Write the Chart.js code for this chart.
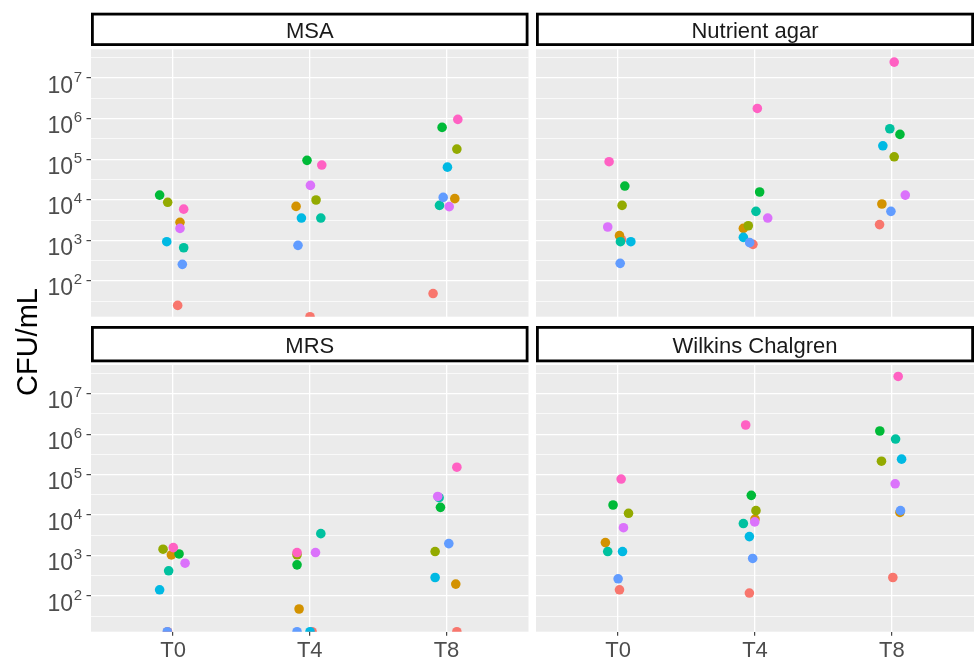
<!DOCTYPE html>
<html>
<head>
<meta charset="utf-8">
<script src="https://cdn.jsdelivr.net/npm/chart.js@4.4.0/dist/chart.umd.min.js"></script>
<style>
  html, body { margin: 0; padding: 0; background: #fff; }
  #wrap { position: relative; width: 976px; height: 657px; overflow: hidden; }
  #wrap canvas { position: absolute; }
  #ytitle {
    position: absolute; left: -72px; top: 325px; width: 200px; height: 34px;
    line-height: 34px; text-align: center; transform: rotate(-90deg);
    font: 29px "Liberation Sans", Arial, sans-serif; color: #000;
  }
</style>
</head>
<body>
<div id="wrap">
  <canvas id="p0"></canvas>
  <canvas id="p1"></canvas>
  <canvas id="p2"></canvas>
  <canvas id="p3"></canvas>
  <div id="ytitle">CFU/mL</div>
</div>
<script>
// --- data ---
const timepoints = ['T0', 'T4', 'T8'];
const media = ['MSA', 'Nutrient agar', 'MRS', 'Wilkins Chalgren'];
const samples = ['S1', 'S2', 'S3', 'S4', 'S5', 'S6', 'S7', 'S8', 'S9'];
const sampleColors = ['#F8766D', '#D39200', '#93AA00', '#00BA38', '#00C19F', '#00B9E3', '#619CFF', '#DB72FB', '#FF61C3'];

// CFU/mL: one row per time point, one value per sample (0 = nothing counted)
const msaCounts = [
  [25, 2800, 8700, 13100, 660, 930, 257, 1980, 5900],
  [0, 6900, 9900, 94000, 3560, 3560, 755, 22700, 72000],
  [49, 10700, 178000, 610000, 7300, 64000, 11500, 6800, 960000]
];
const nutrientCounts = [
  [1040, 1310, 7300, 21900, 930, 930, 272, 2140, 87000],
  [800, 1980, 2300, 15600, 5200, 1190, 880, 3560, 1790000],
  [2450, 7900, 115000, 410000, 565000, 215000, 5200, 13100, 24800000]
];
const mrsCounts = [
  [0, 1040, 1440, 1100, 421, 143, 0, 650, 1580],
  [0, 48, 1050, 592, 3490, 0, 0, 1190, 1190],
  [0, 198, 1260, 15600, 27000, 288, 1980, 29000, 153000]
];
const wilkinsCounts = [
  [143, 2100, 11100, 17800, 1260, 1260, 267, 4900, 78000],
  [119, 8000, 12900, 30800, 6200, 2950, 850, 6800, 1690000],
  [288, 11700, 215000, 1200000, 760000, 242000, 12900, 59600, 26700000]
];

// jitter around each time point (time point units), same layout as the counts
const msaJitter = [
  [0.034, 0.051, -0.039, -0.098, 0.078, -0.046, 0.068, 0.051, 0.078],
  [0.002, -0.100, 0.046, -0.020, 0.081, -0.061, -0.086, 0.005, 0.088],
  [-0.098, 0.061, 0.076, -0.032, -0.051, 0.007, -0.024, 0.020, 0.083]
];
const nutrientJitter = [
  [0.024, 0.010, 0.029, 0.049, 0.017, 0.093, 0.015, -0.076, -0.066],
  [-0.015, -0.085, -0.049, 0.034, 0.007, -0.085, -0.039, 0.093, 0.017],
  [-0.090, -0.073, 0.017, 0.059, -0.015, -0.066, -0.007, 0.098, 0.017]
];
const mrsJitter = [
  [-0.040, -0.012, -0.073, 0.044, -0.032, -0.098, -0.042, 0.088, 0.002],
  [0.017, -0.078, -0.093, -0.093, 0.081, 0.002, -0.093, 0.042, -0.093],
  [0.076, 0.068, -0.083, -0.044, -0.054, -0.083, 0.017, -0.064, 0.076]
];
const wilkinsJitter = [
  [0.010, -0.093, 0.076, -0.037, -0.076, 0.032, 0.000, 0.039, 0.022],
  [-0.041, 0.000, 0.007, -0.027, -0.085, -0.041, -0.017, -0.002, -0.068],
  [0.007, 0.059, -0.076, -0.088, 0.027, 0.071, 0.063, 0.024, 0.046]
];

// y axis: log10 range incl. ggplot expansion, breaks every half decade
const yMin = Math.pow(10, 1.12);
const yMax = Math.pow(10, 7.71);
const yBreakExp = [1.5, 2, 2.5, 3, 3.5, 4, 4.5, 5, 5.5, 6, 6.5, 7, 7.5];

const FONT = '"Liberation Sans", Arial, sans-serif';
const isMajor = v => Math.abs(Math.log10(v) - Math.round(Math.log10(v))) < 1e-6;

// --- panel layout (facet_wrap 2x2) ---
const panels = [
  { id: 'p0', title: media[0], counts: msaCounts, jitter: msaJitter, left: 0, top: 0, w: 530, h: 317, yAxis: true, xAxis: false, padTop: 49.3, stripTop: 12.7, stripH: 33.3, padRight: 1.5 },
  { id: 'p1', title: media[1], counts: nutrientCounts, jitter: nutrientJitter, left: 536, top: 0, w: 440, h: 317, yAxis: false, xAxis: false, padTop: 49.3, stripTop: 12.7, stripH: 33.3, padRight: 2 },
  { id: 'p2', title: media[2], counts: mrsCounts, jitter: mrsJitter, left: 0, top: 320, w: 530, h: 337, yAxis: true, xAxis: true, padTop: 45, stripTop: 6, stripH: 36.3, padRight: 1.5 },
  { id: 'p3', title: media[3], counts: wilkinsCounts, jitter: wilkinsJitter, left: 536, top: 320, w: 440, h: 337, yAxis: false, xAxis: true, padTop: 45, stripTop: 6, stripH: 36.3, padRight: 2 }
];

// grey panel + strip on top
const facetPlugin = {
  id: 'facet',
  beforeDraw(chart, args, opts) {
    const { ctx, chartArea: a } = chart;
    ctx.save();
    ctx.fillStyle = '#EBEBEB';
    ctx.fillRect(a.left, a.top, a.right - a.left, a.bottom - a.top);
    ctx.fillStyle = '#fff';
    ctx.strokeStyle = '#000';
    ctx.lineWidth = 2.8;
    const st = opts.stripTop, sh = opts.stripH;
    ctx.fillRect(a.left, st, a.right - a.left, sh);
    ctx.strokeRect(a.left + 1.4, st + 1.4, a.right - a.left - 2.8, sh - 2.8);
    ctx.fillStyle = '#1A1A1A';
    ctx.font = '22px ' + FONT;
    ctx.textAlign = 'center';
    ctx.textBaseline = 'alphabetic';
    ctx.fillText(opts.title, (a.left + a.right) / 2, st + sh / 2 + 8.5);
    ctx.restore();
  },
  afterDraw(chart, args, opts) {
    if (!opts.yLabels) return;
    const { ctx, chartArea: a } = chart;
    const scale = chart.scales.y;
    ctx.save();
    ctx.fillStyle = '#4D4D4D';
    ctx.textAlign = 'right';
    ctx.textBaseline = 'alphabetic';
    scale.ticks.forEach(t => {
      if (!isMajor(t.value)) return;
      const y = scale.getPixelForValue(t.value);
      const exp = String(Math.round(Math.log10(t.value)));
      const right = a.left - 9;
      ctx.font = '15px ' + FONT;
      const supW = ctx.measureText(exp).width;
      ctx.fillText(exp, right, y + 3.5);
      ctx.font = '23px ' + FONT;
      ctx.fillText('10', right - supW - 0.5, y + 14.5);
    });
    ctx.restore();
  }
};

panels.forEach(p => {
  const canvas = document.getElementById(p.id);
  canvas.width = p.w;
  canvas.height = p.h;
  canvas.style.left = p.left + 'px';
  canvas.style.top = p.top + 'px';
  canvas.style.width = p.w + 'px';
  canvas.style.height = p.h + 'px';

  const datasets = samples.map((name, s) => ({
    label: name,
    // log(0) sits on the panel floor, as ggplot does with -Inf
    data: timepoints.map((t, i) => ({
      x: i + 1 + p.jitter[i][s],
      y: p.counts[i][s] > 0 ? p.counts[i][s] : yMin
    })),
    backgroundColor: sampleColors[s],
    borderWidth: 0,
    pointRadius: 4.8,
    pointHoverRadius: 4.8,
    order: samples.length - s,
    clip: 0
  }));

  new Chart(canvas, {
    type: 'scatter',
    data: { datasets },
    plugins: [facetPlugin],
    options: {
      responsive: false,
      animation: false,
      events: [],
      layout: { autoPadding: false, padding: { top: p.padTop, right: p.padRight, bottom: p.xAxis ? 0 : 0.3, left: 0 } },
      plugins: {
        legend: { display: false },
        tooltip: { enabled: false },
        facet: { title: p.title, stripTop: p.stripTop, stripH: p.stripH, yLabels: p.yAxis }
      },
      scales: {
        x: {
          type: 'linear',
          min: 0.4,
          max: 3.6,
          afterBuildTicks: s => { s.ticks = timepoints.map((t, i) => ({ value: i + 1 })); },
          afterFit: s => { s.height = p.xAxis ? 25.3 : 0; s.paddingLeft = 0; s.paddingRight = 0; },
          border: { display: false },
          grid: { color: '#FFFFFF', lineWidth: 1.3, drawTicks: p.xAxis, tickLength: 4, tickColor: '#333333', tickWidth: 1.1 },
          ticks: {
            display: p.xAxis,
            padding: 2,
            color: '#4D4D4D',
            font: { family: FONT, size: 22 },
            callback: v => timepoints[v - 1]
          }
        },
        y: {
          type: 'logarithmic',
          min: yMin,
          max: yMax,
          afterBuildTicks: s => { s.ticks = yBreakExp.map(e => ({ value: Math.pow(10, e) })); },
          afterFit: s => { s.width = p.yAxis ? 91 : 0; s.paddingTop = 0; s.paddingBottom = 0; },
          border: { display: false },
          grid: {
            color: '#FFFFFF',
            lineWidth: c => (c.tick && isMajor(c.tick.value) ? 1.3 : 0.7),
            drawTicks: p.yAxis,
            tickLength: 4.5,
            tickWidth: 1.1,
            tickColor: c => (c.tick && isMajor(c.tick.value) ? '#333333' : 'rgba(0,0,0,0)')
          },
          ticks: { display: false }
        }
      }
    }
  });
});
</script>
</body>
</html>
